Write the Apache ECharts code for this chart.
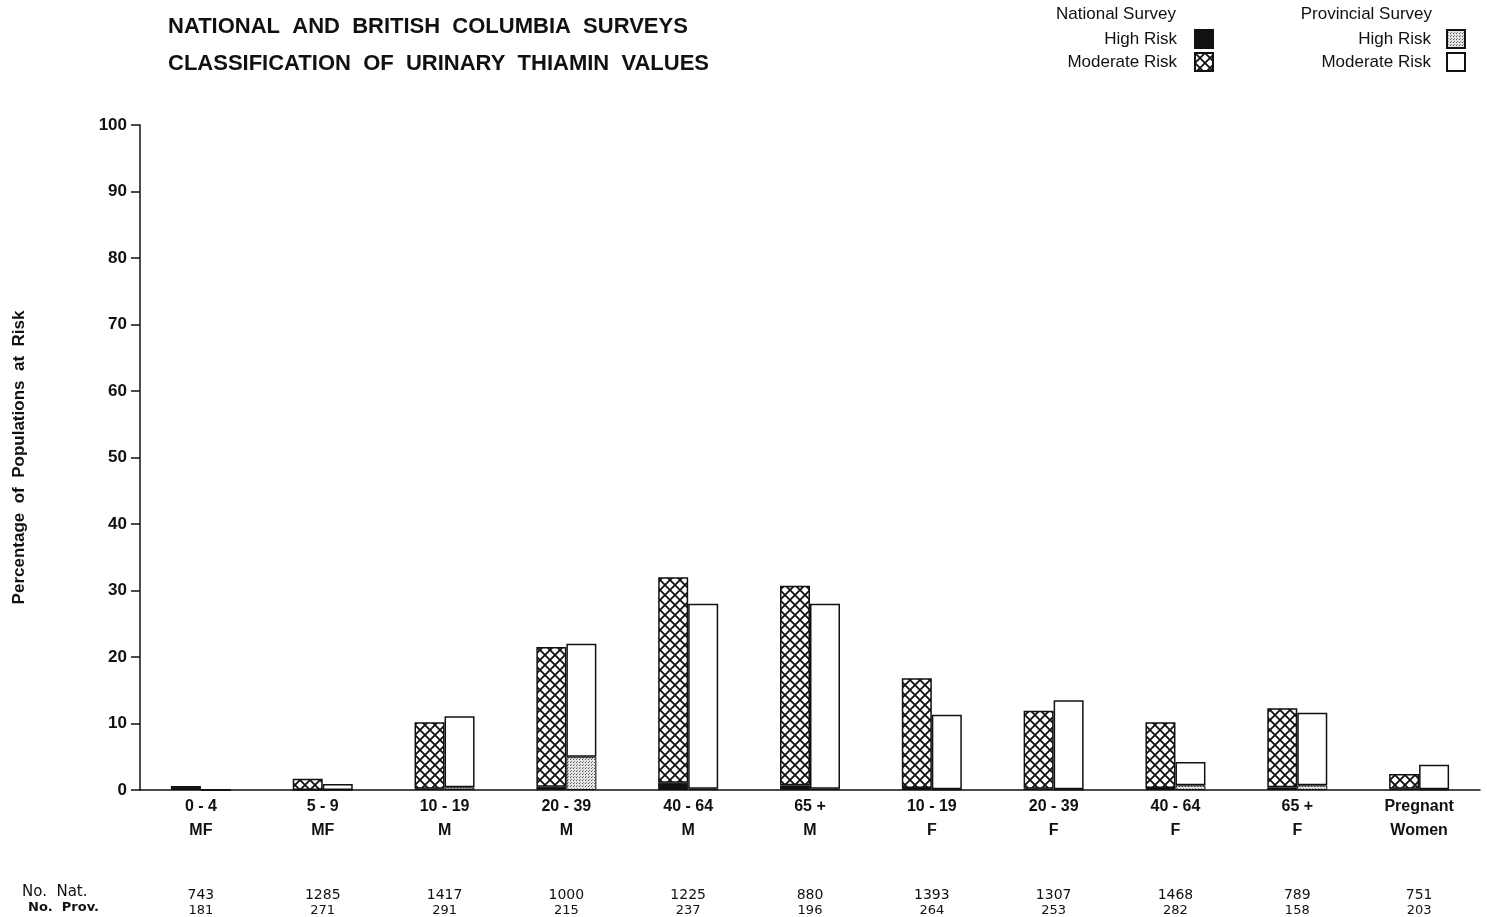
<!DOCTYPE html>
<html>
<head>
<meta charset="utf-8">
<script src="https://cdn.jsdelivr.net/npm/echarts@6/dist/echarts.min.js"></script>
<style>
html,body{margin:0;padding:0;background:#fff;}
#chart{width:1487px;height:917px;}
</style>
</head>
<body>
<div id="chart"></div>
<script>
// ---- data ----
const ageGroups = ['0-4','5-9','10-19','20-39','40-64','65+','10-19','20-39','40-64','65+','Pregnant'];
const sexGroups = ['MF','MF','M','M','M','M','F','F','F','F','Women'];
const natHigh = [0.5, 0, 0.2, 0.5, 1.1, 0.7, 0.3, 0.2, 0.3, 0.4, 0.2];
const natModerate = [0, 1.7, 10.0, 21.0, 30.9, 30.0, 16.5, 11.7, 9.9, 11.9, 2.2];
const provHigh = [0, 0, 0.4, 5.0, 0.2, 0.2, 0.1, 0.1, 0.7, 0.7, 0.1];
const provModerate = [0.1, 0.9, 10.7, 17.0, 27.8, 27.8, 11.2, 13.4, 3.5, 10.9, 3.7];
const noNat = ['743','1285','1417','1000','1225','880','1393','1307','1468','789','751'];
const noProv = ['181','271','291','215','237','196','264','253','282','158','203'];
const yTicks = [0,10,20,30,40,50,60,70,80,90,100];

// ---- patterns ----
function crossHatch(){
  const c = document.createElement('canvas');
  c.width = 10; c.height = 10;
  const g = c.getContext('2d');
  g.fillStyle = '#fff'; g.fillRect(0,0,10,10);
  g.strokeStyle = '#111'; g.lineWidth = 1.8;
  g.beginPath();
  g.moveTo(-2,-2); g.lineTo(12,12);
  g.moveTo(12,-2); g.lineTo(-2,12);
  g.stroke();
  return c;
}
function dots(){
  const c = document.createElement('canvas');
  c.width = 3; c.height = 3;
  const g = c.getContext('2d');
  g.fillStyle = '#e4e4e4'; g.fillRect(0,0,3,3);
  g.fillStyle = '#555'; g.fillRect(0,0,1,1);
  g.fillStyle = '#888'; g.fillRect(1,2,1,1);
  return c;
}
const hatch = {image: crossHatch(), repeat: 'repeat'};
const dotted = {image: dots(), repeat: 'repeat'};

const chart = echarts.init(document.getElementById('chart'));
const font = '"Liberation Sans", Arial, Helvetica, sans-serif';
const numFont = '"DejaVu Sans", sans-serif';

const option = {
  backgroundColor: '#fff',
  animation: false,
  textStyle: {fontFamily: font},
  title: {
    text: 'NATIONAL  AND  BRITISH  COLUMBIA  SURVEYS\nCLASSIFICATION  OF  URINARY  THIAMIN  VALUES',
    left: 163, top: 3,
    textStyle: {fontFamily: font, fontSize: 22, fontWeight: 'bold', color: '#111', lineHeight: 37}
  },
  graphic: [
    {type:'text', right: 311, top: 6, style:{text:'National Survey', font:'17px '+font, fill:'#111', textAlign:'right'}},
    {type:'text', right: 55, top: 6, style:{text:'Provincial Survey', font:'17px '+font, fill:'#111', textAlign:'right'}},
    {type:'text', left: 22, top: 885, style:{text:'No.  Nat.', font:'15px ' + numFont, fill:'#111'}},
    {type:'text', left: 28, top: 901, style:{text:'No.  Prov.', font:'bold 13px ' + numFont, fill:'#111'}}
  ],
  legend: [
    {
      data: ['National High Risk','National Moderate Risk'],
      orient: 'vertical', align: 'right', right: 268, top: 24,
      itemWidth: 18, itemHeight: 18, itemGap: 3, icon: 'rect',
      formatter: n => n.replace('National ', ''),
      textStyle: {fontFamily: font, fontSize: 17, color: '#111', padding: [0, 13, 0, 0]}
    },
    {
      data: ['Provincial High Risk','Provincial Moderate Risk'],
      orient: 'vertical', align: 'right', right: 16, top: 24,
      itemWidth: 18, itemHeight: 18, itemGap: 3, icon: 'rect',
      formatter: n => n.replace('Provincial ', ''),
      textStyle: {fontFamily: font, fontSize: 17, color: '#111', padding: [0, 11, 0, 0]}
    }
  ],
  grid: {left: 140, right: 7, top: 125, bottom: 127},
  xAxis: {
    type: 'category',
    data: ageGroups.map((a,i) => i),
    axisLine: {lineStyle: {color: '#111', width: 1.5}},
    axisTick: {show: false},
    axisLabel: {
      interval: 0, margin: 5,
      formatter: (v) => {
        const i = +v;
        return '{a|' + ageGroups[i].replace('-', ' - ').replace('+', ' +') + '}\n{b|' + sexGroups[i] + '}\n{g|}\n{n|' + noNat[i] + '}\n{p|' + noProv[i] + '}';
      },
      rich: {
        a: {fontFamily: font, fontSize: 16, fontWeight: 'bold', color: '#111', lineHeight: 24},
        b: {fontFamily: font, fontSize: 16, fontWeight: 'bold', color: '#111', lineHeight: 24},
        g: {lineHeight: 45},
        n: {fontFamily: numFont, fontSize: 14, color: '#111', lineHeight: 15},
        p: {fontFamily: numFont, fontSize: 13, color: '#111', lineHeight: 15}
      }
    }
  },
  yAxis: {
    type: 'value', min: 0, max: 100, interval: 10,
    name: 'Percentage  of  Populations  at  Risk',
    nameLocation: 'middle', nameGap: 112,
    nameTextStyle: {fontFamily: font, fontSize: 17, fontWeight: 'bold', color: '#111'},
    axisLine: {show: true, lineStyle: {color: '#111', width: 1.5}},
    axisTick: {show: true, length: 9, lineStyle: {color: '#111', width: 1.5}},
    axisLabel: {fontFamily: font, fontSize: 17, fontWeight: 'bold', color: '#111', margin: 13,
      formatter: v => yTicks.includes(v) ? String(v) : ''},
    splitLine: {show: false}
  },
  series: [
    {name: 'National High Risk', type: 'bar', stack: 'nat', data: natHigh, barWidth: 30, barGap: '0%',
      itemStyle: {color: '#111', borderColor: '#111', borderWidth: 1}},
    {name: 'National Moderate Risk', type: 'bar', stack: 'nat', data: natModerate, barWidth: 30, barGap: '0%',
      itemStyle: {color: hatch, borderColor: '#111', borderWidth: 1.5}},
    {name: 'Provincial High Risk', type: 'bar', stack: 'prov', data: provHigh, barWidth: 30, barGap: '0%',
      itemStyle: {color: dotted, borderColor: '#111', borderWidth: 1}},
    {name: 'Provincial Moderate Risk', type: 'bar', stack: 'prov', data: provModerate, barWidth: 30, barGap: '0%',
      itemStyle: {color: '#fff', borderColor: '#111', borderWidth: 1.5}}
  ]
};
chart.setOption(option);
</script>
</body>
</html>
